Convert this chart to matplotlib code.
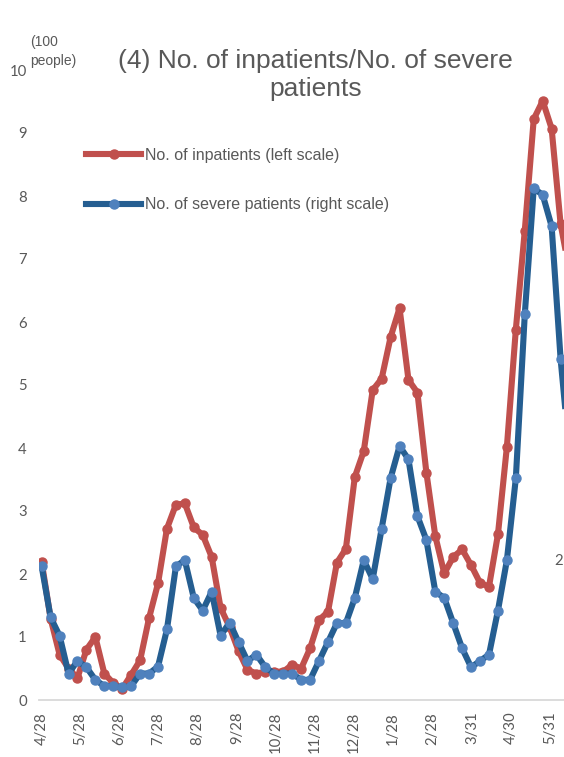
import matplotlib
matplotlib.use("Agg")
import matplotlib.pyplot as plt
import pandas as pd

# ---- data (hundreds of people), weekly from 2020-04-28 ----
start_date = "2020-04-28"
inpatients = [2.19, 1.29, 0.72, 0.50, 0.35, 0.80, 1.00, 0.42, 0.27, 0.18,
              0.40, 0.63, 1.30, 1.85, 2.72, 3.10, 3.12, 2.74, 2.62, 2.27,
              1.46, 1.16, 0.78, 0.48, 0.42, 0.45, 0.45, 0.45, 0.56, 0.50,
              0.82, 1.27, 1.40, 2.18, 2.40, 3.54, 3.95, 4.92, 5.10, 5.76,
              6.22, 5.08, 4.88, 3.61, 2.60, 2.01, 2.27, 2.39, 2.14, 1.86,
              1.80, 2.63, 4.02, 5.88, 7.45, 9.22, 9.51, 9.07, 7.56, 6.80]
severe = [2.12, 1.31, 1.02, 0.42, 0.62, 0.52, 0.32, 0.22, 0.22, 0.20,
          0.22, 0.42, 0.42, 0.53, 1.12, 2.12, 2.22, 1.62, 1.42, 1.72,
          1.02, 1.23, 0.92, 0.62, 0.72, 0.52, 0.42, 0.42, 0.42, 0.32,
          0.32, 0.62, 0.92, 1.22, 1.22, 1.62, 2.22, 1.92, 2.72, 3.52,
          4.03, 3.82, 2.92, 2.54, 1.72, 1.62, 1.22, 0.82, 0.52, 0.62,
          0.72, 1.42, 2.22, 3.52, 6.12, 8.12, 8.02, 7.52, 5.42, 3.90]
tick_dates = ["2020-04-28", "2020-05-28", "2020-06-28", "2020-07-28", "2020-08-28",
              "2020-09-28", "2020-10-28", "2020-11-28", "2020-12-28", "2021-01-28",
              "2021-02-28", "2021-03-31", "2021-04-30", "2021-05-31"]
tick_labels = ["4/28", "5/28", "6/28", "7/28", "8/28", "9/28", "10/28", "11/28",
               "12/28", "1/28", "2/28", "3/31", "4/30", "5/31"]
y_ticks = [0, 1, 2, 3, 4, 5, 6, 7, 8, 9, 10]
series_labels = ["No. of inpatients (left scale)", "No. of severe patients (right scale)"]
title = "(4) No. of inpatients/No. of severe\npatients"
unit_label = "(100\npeople)"

dates = pd.date_range(start_date, periods=len(inpatients), freq="7D")

W, H = 564, 757
fig = plt.figure(figsize=(W / 100, H / 100), dpi=100)

ax_left_px, ax_right_px, ax_top_px, ax_bot_px = 39.3, 600, 70, 700
ax = fig.add_axes([ax_left_px / W, 1 - ax_bot_px / H,
                   (ax_right_px - ax_left_px) / W, (ax_bot_px - ax_top_px) / H])

grey = "#595959"
red = "#C0504D"
blue_line = "#255E91"
blue_marker = "#4F81BD"

ax.plot(dates, inpatients, color=red, lw=4.4, marker="o", ms=6.5,
        mfc=red, mec=red, solid_joinstyle="round", label=series_labels[0], zorder=3)
ax.plot(dates, severe, color=blue_line, lw=4.4, marker="o", ms=6.5,
        mfc=blue_marker, mec=blue_marker, solid_joinstyle="round",
        label=series_labels[1], zorder=4)

px_per_day = 1.278
d0 = pd.Timestamp(start_date) - pd.Timedelta(days=(41.7 - ax_left_px) / px_per_day)
d1 = d0 + pd.Timedelta(days=(ax_right_px - ax_left_px) / px_per_day)
ax.set_xlim(d0, d1)
ax.set_ylim(0, 10)

ax.set_xticks(pd.to_datetime(tick_dates))
ax.set_xticklabels(tick_labels, rotation=90, fontfamily="Lato", fontsize=10.7, color=grey)
ax.set_yticks(y_ticks)
ax.set_yticklabels([str(v) for v in y_ticks], fontfamily="Lato", fontsize=10.7, color=grey)
ax.tick_params(axis="both", length=0)
ax.tick_params(axis="x", pad=8.5)
ax.tick_params(axis="y", pad=9)

for s in ["top", "right", "left"]:
    ax.spines[s].set_visible(False)
ax.spines["bottom"].set_color("#D9D9D9")
ax.spines["bottom"].set_linewidth(1.3)
ax.patch.set_alpha(0)

fig.text(30 / W, 1 - 35 / H, unit_label, ha="left", va="top", fontsize=10,
         color=grey, fontfamily="Liberation Sans", linespacing=1.45)

fig.text(315.5 / W, 1 - 49 / H, title, ha="center", va="top", fontsize=19,
         color=grey, fontfamily="Liberation Sans", linespacing=1.22)

leg = ax.legend(loc="upper left", bbox_to_anchor=(86 / W, 1 - 148 / H),
                bbox_transform=fig.transFigure, frameon=False,
                prop={"family": "Liberation Sans", "size": 11.5},
                handlelength=3.45, handletextpad=0.25, labelspacing=2.15,
                borderpad=0, borderaxespad=0, numpoints=1)
for t in leg.get_texts():
    t.set_color(grey)

# partially visible right-axis label
fig.text(559 / W, 1 - 561 / H, "2", ha="center", va="center",
         fontfamily="Lato", fontsize=10.7, color=grey)

fig.savefig("out.png", dpi=100)
